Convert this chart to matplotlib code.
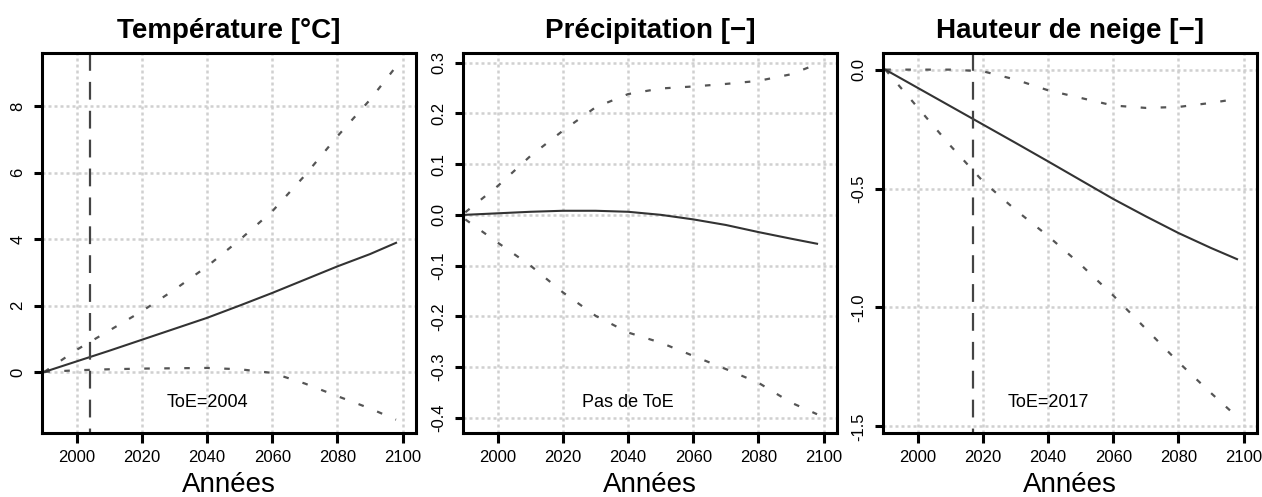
import numpy as np
import matplotlib
matplotlib.use('Agg')
import matplotlib.pyplot as plt

plt.rcParams['font.family'] = ['Liberation Sans', 'DejaVu Sans']
plt.rcParams['axes.unicode_minus'] = False

years = [1990, 2000, 2010, 2020, 2030, 2040, 2050, 2060, 2070, 2080, 2090, 2098]

# temperature [degC]
temp_mean = [0.0, 0.32, 0.64, 0.97, 1.30, 1.63, 2.00, 2.38, 2.78, 3.18, 3.55, 3.89]
temp_high = [0.0, 0.67, 1.25, 1.83, 2.48, 3.18, 3.98, 4.84, 5.92, 7.10, 8.20, 9.20]
temp_low = [0.0, 0.05, 0.08, 0.10, 0.11, 0.12, 0.08, -0.03, -0.35, -0.73, -1.10, -1.44]

# precipitation [-]
prec_mean = [0.0, 0.003, 0.006, 0.008, 0.008, 0.006, 0.0, -0.009, -0.020, -0.034, -0.047, -0.057]
prec_high = [0.005, 0.057, 0.116, 0.166, 0.212, 0.238, 0.249, 0.253, 0.258, 0.264, 0.277, 0.297]
prec_low = [-0.009, -0.055, -0.10, -0.153, -0.199, -0.232, -0.252, -0.278, -0.304, -0.331, -0.37, -0.393]

# snow depth [-]
snow_mean = [0.0, -0.077, -0.154, -0.231, -0.308, -0.386, -0.465, -0.544, -0.617, -0.687, -0.750, -0.797]
snow_high = [0.0, 0.0, 0.0, -0.007, -0.042, -0.087, -0.119, -0.151, -0.161, -0.157, -0.140, -0.123]
snow_low = [0.0, -0.16, -0.32, -0.47, -0.59, -0.70, -0.82, -0.95, -1.09, -1.23, -1.36, -1.46]

titles = ['Température [°C]', 'Précipitation [−]', 'Hauteur de neige [−]']
toe_years = [2004, None, 2017]
toe_labels = ['ToE=2004', 'Pas de ToE', 'ToE=2017']
yticks = [[0, 2, 4, 6, 8],
          [0.3, 0.2, 0.1, 0.0, -0.1, -0.2, -0.3, -0.4],
          [0.0, -0.5, -1.0, -1.5]]
ytick_labels = [['0', '2', '4', '6', '8'],
                ['0.3', '0.2', '0.1', '0.0', '-0.1', '-0.2', '-0.3', '-0.4'],
                ['0.0', '-0.5', '-1.0', '-1.5']]
ylims = [(-1.84, 9.61), (-0.43, 0.319), (-1.528, 0.070)]
xticks = [2000, 2020, 2040, 2060, 2080, 2100]

series = [(temp_mean, temp_high, temp_low),
          (prec_mean, prec_high, prec_low),
          (snow_mean, snow_high, snow_low)]

fig = plt.figure(figsize=(12.62, 4.97), dpi=100)
lefts = [0.0333, 0.3669, 0.6997]
for i in range(3):
    ax = fig.add_axes([lefts[i], 0.1288, 0.2960, 0.7646])
    mean, high, low = series[i]

    # grid like R's grid(): light grey, dotted
    ax.grid(True, color='#d0d0d0', linestyle=(0, (1.2, 1.2)), linewidth=1.8)
    ax.set_axisbelow(True)

    ax.plot(years, high, color='#555555', lw=1.6, linestyle=(0, (2.5, 6.5)))
    ax.plot(years, low, color='#555555', lw=1.6, linestyle=(0, (2.5, 6.5)))
    ax.plot(years, mean, color='#333333', lw=1.5)

    if toe_years[i] is not None:
        ax.axvline(toe_years[i], color='#444444', lw=1.6, linestyle=(6, (8, 5)))

    ax.text(2040, 0.079, toe_labels[i], transform=ax.get_xaxis_transform(),
            ha='center', va='center', fontsize=13)

    ax.set_xlim(1989.3, 2104)
    ax.set_ylim(*ylims[i])
    ax.set_xticks(xticks)
    ax.set_xticklabels([str(x) for x in xticks])
    ax.set_yticks(yticks[i])
    ax.set_yticklabels(ytick_labels[i], rotation=90, va='center')
    ax.tick_params(axis='both', direction='out', width=2.2, labelsize=12)
    ax.tick_params(axis='x', length=7, pad=5)
    ax.tick_params(axis='y', length=6, pad=6)
    for s in ax.spines.values():
        s.set_linewidth(2.2)

    ax.set_title(titles[i], fontsize=20, fontweight='bold', pad=11)
    ax.set_xlabel('Années', fontsize=20, labelpad=5)

fig.savefig('out.png', dpi=100)
